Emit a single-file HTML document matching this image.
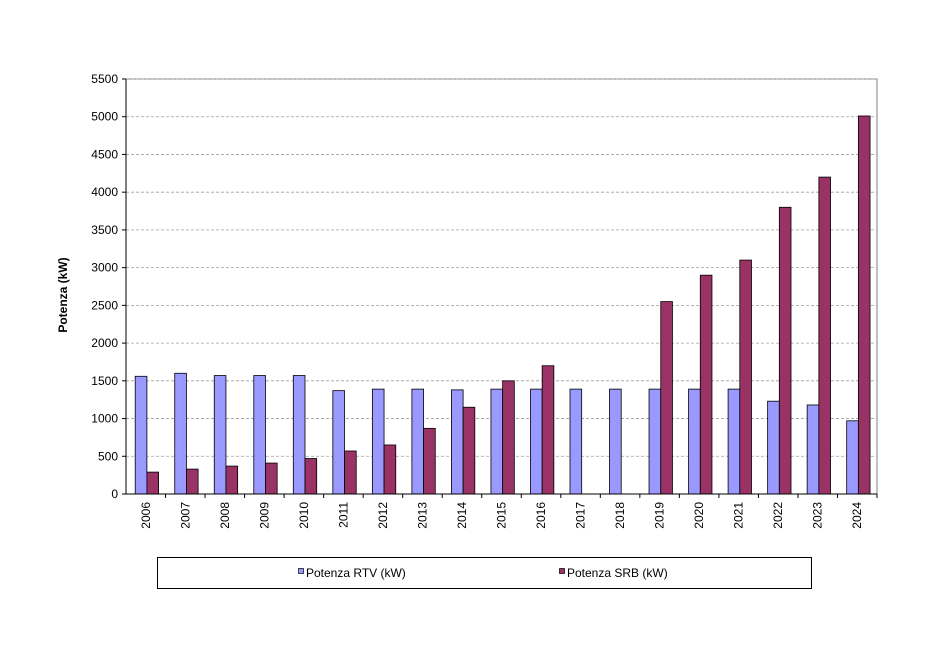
<!DOCTYPE html>
<html><head><meta charset="utf-8"><style>body{margin:0;background:#fff}svg{display:block}text{font-family:"Liberation Sans",Arial,sans-serif;font-size:12px;fill:#000}</style></head>
<body>
<svg width="942" height="652" xmlns="http://www.w3.org/2000/svg">
<rect x="126" y="79" width="751" height="415" fill="#fff" stroke="#808080"/>
<g id="grid"></g>
<g id="bars"></g>
<line x1="126" y1="79" x2="126" y2="494" stroke="#000"/>
<line x1="126" y1="494" x2="877" y2="494" stroke="#000"/>
<g id="labels"></g>
<text transform="translate(67,295) rotate(-90)" text-anchor="middle" font-weight="bold" style="font-weight:bold">Potenza (kW)</text>
<rect x="157.5" y="557.5" width="654" height="31" fill="#fff" stroke="#000"/>
<rect x="298.5" y="568.5" width="5" height="5" fill="#9999ff" stroke="#000" stroke-width="0.7"/>
<text x="306" y="577">Potenza RTV (kW)</text>
<rect x="559.5" y="568.5" width="5" height="5" fill="#993366" stroke="#000" stroke-width="0.7"/>
<text x="567" y="577">Potenza SRB (kW)</text>
<script>
var ns="http://www.w3.org/2000/svg";
function el(p,t,a,txt){var e=document.createElementNS(ns,t);for(var k in a)e.setAttribute(k,a[k]);if(txt!=null)e.textContent=txt;p.appendChild(e);return e;}
var g=document.getElementById('grid'),b=document.getElementById('bars'),l=document.getElementById('labels');
var y0=494,sc=415/5500;
for(var v=0;v<=5500;v+=500){var y=y0-v*sc;
 if(v>0)el(g,'line',{x1:126,x2:877,y1:y,y2:y,stroke:'#a0a0a0','stroke-dasharray':'3,2','stroke-width':0.8});
 el(l,'line',{x1:122,x2:126,y1:y,y2:y,stroke:'#000'});
 el(l,'text',{x:118,y:y+4,'text-anchor':'end'},v);}
var rtv=[1560,1600,1570,1570,1570,1370,1390,1390,1380,1390,1390,1390,1390,1390,1390,1390,1230,1180,970];
var srb=[290,330,370,410,470,570,650,870,1150,1500,1700,0,0,2550,2900,3100,3800,4200,5010];
var cw=751/19;
for(var i=0;i<19;i++){var x=126+i*cw;
 el(l,'line',{x1:x+cw,x2:x+cw,y1:494,y2:498,stroke:'#000'});
 var bx=x+9.2,bw=11.7;
 el(b,'rect',{x:bx,y:y0-rtv[i]*sc,width:bw,height:rtv[i]*sc,fill:'#9999ff',stroke:'#000','stroke-width':0.8});
 if(srb[i])el(b,'rect',{x:bx+bw,y:y0-srb[i]*sc,width:bw,height:srb[i]*sc,fill:'#993366',stroke:'#000','stroke-width':0.8});
 var cx=x+cw/2+4;
 el(l,'text',{transform:'translate('+cx+',502) rotate(-90)','text-anchor':'end'},2006+i);}
</script>
</svg>
</body></html>
